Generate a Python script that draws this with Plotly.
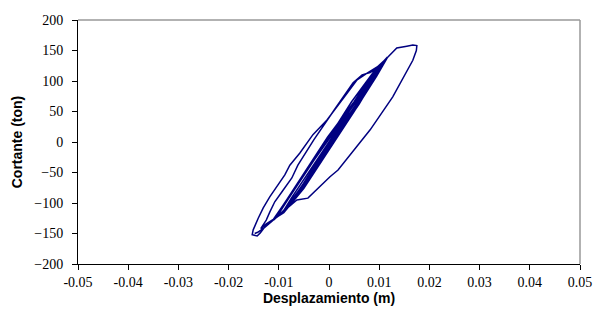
import plotly.graph_objects as go

# Desplazamiento (m) y cortante (ton)
desplazamiento = [
    0, 0.002, 0.004, 0.006, 0.0045, 0.002, 0, -0.002, -0.004, -0.006, -0.0045, -0.002, 0,
    0.003, 0.006, 0.009, 0.0075, 0.004, 0, -0.004, -0.007, -0.009, -0.0075, -0.004, 0,
    0.004, 0.008, 0.0105, 0.0085, 0.004, -0.001, -0.006, -0.0095, -0.0105, -0.008, -0.003, 0.002,
    0.006, 0.0095, 0.0116, 0.0095, 0.005, 0, -0.005, -0.0095, -0.0112, -0.009, -0.004, 0.001,
    0.0055, 0.0092, 0.0114, 0.0098, 0.0055, 0.0005, -0.0045, -0.0088, -0.0108, -0.0095, -0.0045, 0.0005,
    0.0045, 0.0088, 0.0115, 0.0099, 0.006, 0.001, -0.004, -0.0085, -0.011, -0.0098, -0.0052, -0.0003,
    0.005, 0.009, 0.0116, 0.0095, 0.005, 0, -0.005, -0.009, -0.0125, -0.0136, -0.0125,
    -0.0118, -0.0108, -0.0094, -0.0074, -0.0062, -0.003, 0.001, 0.0048, 0.0066, 0.0082,
    0.0096, 0.0108, 0.0116,
    0.0095, 0.005, 0, -0.005, -0.009, -0.0125, -0.0137, -0.0143, -0.0153,
    -0.0151, -0.0141, -0.0131, -0.0118, -0.0102, -0.0088, -0.0078, -0.0058, -0.0032,
    -0.0004, 0.0036, 0.0056, 0.0076, 0.0096, 0.0116, 0.0135, 0.0155, 0.0167, 0.0175,
    0.0174, 0.0167, 0.0127, 0.0082, 0.0018, 0.0002, -0.0042, -0.0064, -0.0085, -0.0108,
    -0.0128, -0.0142, -0.0148,
]
cortante = [
    0, 22, 45, 68, 48, 16, -8, -32, -56, -80, -60, -28, -4,
    34, 70, 106, 86, 42, -10, -60, -96, -112, -92, -50, 0,
    50, 98, 126, 100, 42, -18, -80, -118, -124, -92, -30, 28,
    76, 116, 138, 110, 54, -6, -68, -118, -128, -102, -40, 20,
    70, 114, 136, 114, 58, -2, -62, -112, -126, -108, -46, 14,
    66, 114, 137, 116, 62, 2, -58, -108, -128, -112, -54, 8,
    66, 116, 138, 108, 50, -14, -76, -116, -134, -142, -128,
    -115, -98, -82, -59, -38, 4, 52, 97, 110, 114,
    121, 131, 139,
    110, 52, -10, -72, -114, -136, -149, -154, -152,
    -144, -125, -108, -90, -70, -54, -38, -18, 12,
    36, 80, 102, 113, 123, 138, 154, 157, 159, 158,
    150, 134, 74, 20, -46, -57, -92, -95, -110, -126,
    -140, -148, -150,
]

x_ticks = [-0.05, -0.04, -0.03, -0.02, -0.01, 0, 0.01, 0.02, 0.03, 0.04, 0.05]
x_labels = ["-0.05", "-0.04", "-0.03", "-0.02", "-0.01", "0", "0.01", "0.02", "0.03", "0.04", "0.05"]
y_ticks = [-200, -150, -100, -50, 0, 50, 100, 150, 200]

fig = go.Figure(go.Scatter(x=desplazamiento, y=cortante, mode="lines",
                           line=dict(color="#000080", width=1.5),
                           showlegend=False, hoverinfo="skip"))

tick_font = dict(family="'Liberation Serif', 'Times New Roman', serif", size=14, color="black")
title_font = dict(family="'Liberation Sans', Arial, sans-serif", size=14, color="black")

fig.update_layout(
    width=597, height=320,
    margin=dict(l=78, r=17, t=20, b=56),
    paper_bgcolor="white", plot_bgcolor="white",
    xaxis=dict(range=[-0.05, 0.05], tickvals=x_ticks, ticktext=x_labels,
               showgrid=False, zeroline=False, showline=True, linecolor="black",
               linewidth=1, ticks="outside", ticklen=5, tickcolor="black",
               tickfont=tick_font, automargin=False,
               title=dict(text="<b>Desplazamiento (m)</b>", font=title_font, standoff=1)),
    yaxis=dict(range=[-200, 200], tickvals=y_ticks,
               showgrid=False, zeroline=False, showline=True, linecolor="black",
               linewidth=1, ticks="outside", ticklen=5, tickcolor="black",
               tickfont=tick_font, automargin=False, ticklabelstandoff=6,
               title=dict(text="<b>Cortante (ton)</b>", font=title_font, standoff=8)),
    shapes=[
        dict(type="line", xref="paper", yref="paper", x0=0, x1=1, y0=1, y1=1,
             line=dict(color="#999999", width=1.5)),
        dict(type="line", xref="paper", yref="paper", x0=1, x1=1, y0=0, y1=1,
             line=dict(color="#999999", width=1.5)),
    ],
)

# drop the page's default body margin so the figure sits at the window corner
fig.write_html("out.html", config={"displayModeBar": False},
               post_script="document.body.style.margin='0';")
